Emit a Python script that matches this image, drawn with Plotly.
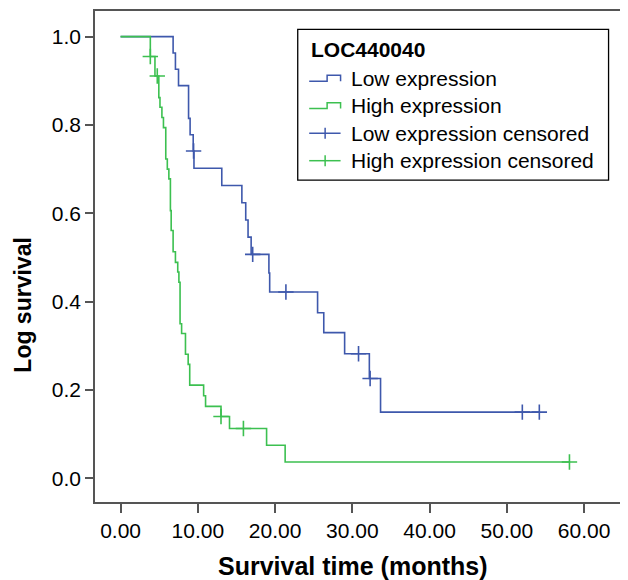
import plotly.graph_objects as go

# ---- data ----
low_times = [0, 6.8, 7.1, 7.5, 8.8, 9.0, 9.4, 9.5, 13.1, 15.7, 16.2, 16.5, 16.9, 19.2, 19.3,
             25.5, 26.3, 29.0, 32.2, 33.65, 54.2]
low_surv = [1.0, 0.963, 0.926, 0.889, 0.815, 0.778, 0.741, 0.702, 0.663, 0.624, 0.585, 0.546,
            0.507, 0.465, 0.422, 0.375, 0.330, 0.282, 0.226, 0.150, 0.150]
low_cens_times = [9.45, 17.1, 21.4, 30.8, 32.3, 52.0, 54.2]
low_cens_surv = [0.741, 0.507, 0.422, 0.282, 0.226, 0.150, 0.150]

high_times = [0, 3.85, 4.45, 4.95, 5.1, 5.35, 5.55, 5.85, 6.05, 6.25, 6.45, 6.55, 6.8, 7.1,
              7.4, 7.55, 7.7, 7.9, 8.4, 8.75, 8.95, 10.75, 11.0, 13.0, 14.1, 18.9, 21.3, 58.1]
high_surv = [1.0, 0.955, 0.911, 0.862, 0.840, 0.817, 0.794, 0.723, 0.700, 0.678, 0.606, 0.561,
             0.513, 0.489, 0.467, 0.444, 0.350, 0.328, 0.281, 0.258, 0.211, 0.187, 0.163,
             0.140, 0.113, 0.075, 0.037, 0.037]
high_cens_times = [3.85, 4.75, 13.0, 15.9, 58.1]
high_cens_surv = [0.955, 0.911, 0.140, 0.113, 0.037]

x_ticks = [0, 10, 20, 30, 40, 50, 60]
y_ticks = [0.0, 0.2, 0.4, 0.6, 0.8, 1.0]

legend_title = "LOC440040"
legend_labels = ["Low expression", "High expression",
                 "Low expression censored", "High expression censored"]

BLUE = "#3e58ac"
GREEN = "#3cc050"
FONT = "Liberation Sans, Arial, sans-serif"

# the page body has an 8px margin; figure is sized so that it ends at the window edge
OFF = 8
W, H = 628 - OFF, 580 - OFF
ML, MT = 95 - OFF, 10 - OFF
MR = W - (627 - OFF)
MB = H - (502 - OFF)
PW, PH = W - ML - MR, H - MT - MB


def px(x):
    """screen x pixel -> paper coordinate"""
    return (x - OFF - ML) / PW


def py(y):
    """screen y pixel -> paper coordinate"""
    return (H - MB - (y - OFF)) / PH


fig = go.Figure()
fig.add_trace(go.Scatter(x=low_times, y=low_surv, mode="lines", line_shape="hv",
                         line=dict(color=BLUE, width=1.6), showlegend=False))
fig.add_trace(go.Scatter(x=high_times, y=high_surv, mode="lines", line_shape="hv",
                         line=dict(color=GREEN, width=1.6), showlegend=False))
fig.add_trace(go.Scatter(x=low_cens_times, y=low_cens_surv, mode="markers",
                         marker=dict(symbol="cross-thin", size=11,
                                     line=dict(color=BLUE, width=1.6)),
                         showlegend=False))
fig.add_trace(go.Scatter(x=high_cens_times, y=high_cens_surv, mode="markers",
                         marker=dict(symbol="cross-thin", size=11,
                                     line=dict(color=GREEN, width=1.6)),
                         showlegend=False))

shapes = []
annotations = []

# legend box
shapes.append(dict(type="rect", xref="paper", yref="paper",
                   x0=px(298.5), x1=px(610.5), y0=py(179.5), y1=py(28.5),
                   line=dict(color="black", width=1.3), fillcolor="white", layer="above"))
annotations.append(dict(text="<b>" + legend_title + "</b>", xref="paper", yref="paper",
                        x=px(310), y=py(48.5), xanchor="left", yanchor="middle",
                        showarrow=False, font=dict(family=FONT, size=21, color="black")))
row_y = [77.5, 105, 132.5, 160]
row_col = [BLUE, GREEN, BLUE, GREEN]
for i, (lab, yy, col) in enumerate(zip(legend_labels, row_y, row_col)):
    annotations.append(dict(text=lab, xref="paper", yref="paper",
                            x=px(350), y=py(yy), xanchor="left", yanchor="middle",
                            showarrow=False, font=dict(family=FONT, size=21, color="black")))
    if i < 2:
        lo, hi = yy + 2.8, yy - 3.0
        path = (f"M {px(310)},{py(lo)} L {px(328)},{py(lo)} L {px(328)},{py(hi)} "
                f"L {px(341.5)},{py(hi)} L {px(341.5)},{py(lo)}")
        shapes.append(dict(type="path", xref="paper", yref="paper", path=path,
                           line=dict(color=col, width=1.5), layer="above"))
    else:
        shapes.append(dict(type="line", xref="paper", yref="paper",
                           x0=px(310), x1=px(341.5), y0=py(yy), y1=py(yy),
                           line=dict(color=col, width=1.5), layer="above"))
        shapes.append(dict(type="line", xref="paper", yref="paper",
                           x0=px(326), x1=px(326), y0=py(yy - 5.5), y1=py(yy + 5.5),
                           line=dict(color=col, width=1.5), layer="above"))

# axis titles
annotations.append(dict(text="<b>Survival time (months)</b>", xref="paper", yref="paper",
                        x=px(353.5), y=py(566), xanchor="center", yanchor="middle",
                        showarrow=False, font=dict(family=FONT, size=25, color="black")))
annotations.append(dict(text="<b>Log survival</b>", xref="paper", yref="paper",
                        x=px(23), y=py(305), xanchor="center", yanchor="middle",
                        textangle=-90, showarrow=False,
                        font=dict(family=FONT, size=23, color="black")))

fig.update_layout(
    width=W, height=H,
    margin=dict(l=ML, r=MR, t=MT, b=MB),
    paper_bgcolor="white", plot_bgcolor="white",
    font=dict(family=FONT, size=21, color="black"),
    shapes=shapes, annotations=annotations, showlegend=False,
)
fig.update_xaxes(range=[-3.31, 65.29], tickvals=x_ticks,
                 ticktext=[f"{v:.2f}" for v in x_ticks],
                 showgrid=False, zeroline=False, showline=True, mirror=True,
                 linecolor="#555555", linewidth=1.5, ticks="outside", ticklen=9,
                 tickcolor="#555555", tickwidth=1.5,
                 tickfont=dict(family=FONT, size=21, color="black"))
fig.update_yaxes(range=[-0.0535, 1.058], tickvals=y_ticks,
                 ticktext=[f"{v:.1f}" for v in y_ticks],
                 showgrid=False, zeroline=False, showline=True, mirror=True,
                 linecolor="#555555", linewidth=1.5, ticks="outside", ticklen=8,
                 tickcolor="#555555", tickwidth=1.5,
                 tickfont=dict(family=FONT, size=21, color="black"))

fig.write_html("out.html")
